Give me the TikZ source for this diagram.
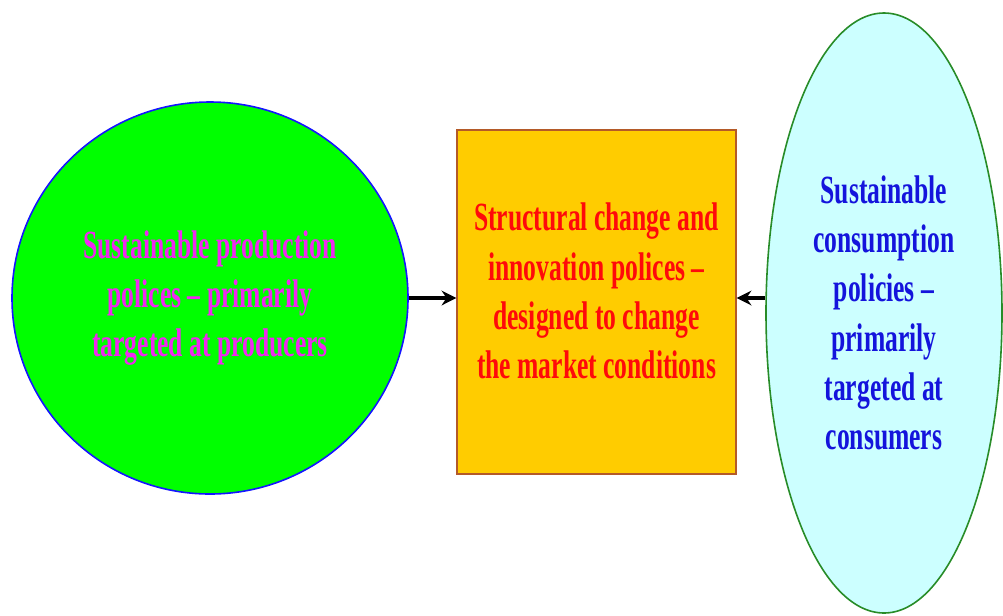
\documentclass[tikz,border=0pt]{standalone}
\usepackage{fontspec}
\newfontfamily\polfont[FakeStretch=0.64]{Liberation Serif}
\usetikzlibrary{shapes.geometric,arrows.meta}

\definecolor{prodfill}{RGB}{0,255,0}
\definecolor{prodline}{RGB}{20,20,255}
\definecolor{prodtext}{RGB}{240,40,240}
\definecolor{structfill}{RGB}{255,204,0}
\definecolor{structline}{RGB}{180,90,40}
\definecolor{structtext}{RGB}{255,10,10}
\definecolor{consfill}{RGB}{204,255,255}
\definecolor{consline}{RGB}{40,140,40}
\definecolor{constext}{RGB}{20,20,220}

\tikzset{
  policy/.style={align=center, inner sep=0.75pt, font=\polfont\bfseries\fontsize{30}{37}\selectfont},
  flow/.style={-{Stealth[length=11pt,width=11pt]}, line width=2.4pt, draw=black}
}

\begin{document}
\begin{tikzpicture}[x=0.75pt,y=0.75pt,yscale=-1,xscale=1]
        \useasboundingbox (0,0) rectangle (1003,615);

        %Shape: Ellipse [id:prod]
        \node [policy, ellipse, draw=prodline, fill=prodfill, line width=1.2pt, text=prodtext, minimum width=297pt, minimum height=294pt] (prod) at (210,298) {Sustainable production\\polices – primarily\\targeted at producers};
        %Shape: Rectangle [id:struct]
        \node [rectangle, draw=structline, fill=structfill, line width=1.2pt, minimum width=209pt, minimum height=258pt] (struct) at (596.5,302) {};
        % Text Node
        \node [policy, text=structtext] (structlabel) at (596.5,291) {Structural change and\\innovation polices –\\designed to change\\the market conditions};
        %Shape: Ellipse [id:cons]
        \node [policy, ellipse, draw=consline, fill=consfill, line width=1.2pt, text=constext, minimum width=177pt, minimum height=450pt] (cons) at (884,313) {Sustainable\\consumption\\policies –\\primarily\\targeted at\\consumers};

        %Straight Lines [id:arrows]
        \draw [flow] (prod.east) -- (prod.east -| struct.west);
        \draw [flow] (cons.west |- prod.east) -- (prod.east -| struct.east);
\end{tikzpicture}
\end{document}
